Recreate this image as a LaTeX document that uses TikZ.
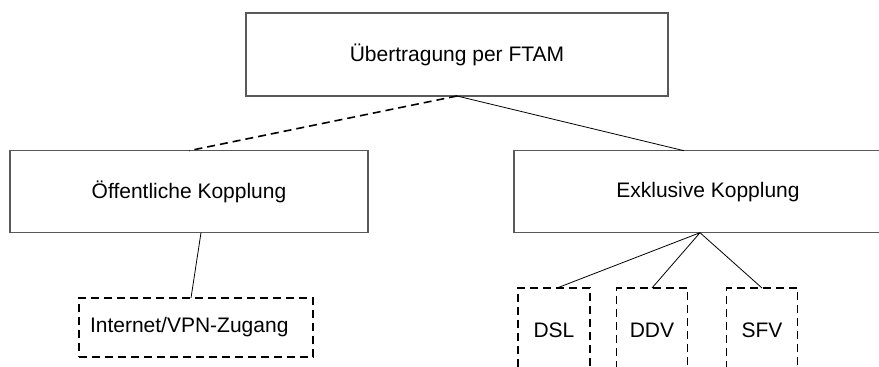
\documentclass[tikz,border=0pt]{standalone}
\usepackage{fontspec}
\setmainfont{Liberation Sans}
\usetikzlibrary{positioning}

\begin{document}
\begin{tikzpicture}[x=1pt,y=-1pt,
                font=\fontsize{21}{25}\selectfont,
                main node/.style={rectangle,draw=black!65,line width=1.1pt,inner sep=0pt,outer sep=0pt,minimum height=82pt},
                sub node/.style={rectangle,draw=black,dash pattern=on 8pt off 5pt,line width=1.6pt,inner sep=0pt,outer sep=0pt},
                link/.style={draw=black,line width=0.8pt}]

  \clip (0,0) rectangle (879,367);

  \node[main node,minimum width=422pt,minimum height=83pt] (ftam) at (457,54.5) {Übertragung per FTAM};
  \node[main node,minimum width=358pt] (oeff) at (189,191.7) {Öffentliche Kopplung};
  \node[main node,minimum width=388pt] (exkl) at (708,191.7) {Exklusive Kopplung};

  \node[sub node,minimum width=234pt,minimum height=59pt,inner xsep=11pt,text width=212pt,align=left] (inet) at (196,327.5) {Internet/VPN-Zugang};
  \node[sub node,minimum width=72pt,minimum height=84pt] (dsl) at (554,330) {DSL};
  \node[sub node,minimum width=71pt,minimum height=84pt] (ddv) at (652,330) {DDV};
  \node[sub node,minimum width=71pt,minimum height=84pt] (sfv) at (762,330) {SFV};

  \path[link,dashed,dash pattern=on 8pt off 5pt,line width=1.6pt]
    (ftam.south) -- (oeff.north);
  \path[link]
    (ftam.south) -- ([xshift=-24pt]exkl.north)
    ([xshift=12pt]oeff.south) -- ([xshift=-5pt]inet.north)
    ([xshift=-8pt]exkl.south) -- ([xshift=3pt]dsl.north)
    ([xshift=-8pt]exkl.south) -- (ddv.north)
    ([xshift=-8pt]exkl.south) -- (sfv.north);

\end{tikzpicture}
\end{document}
